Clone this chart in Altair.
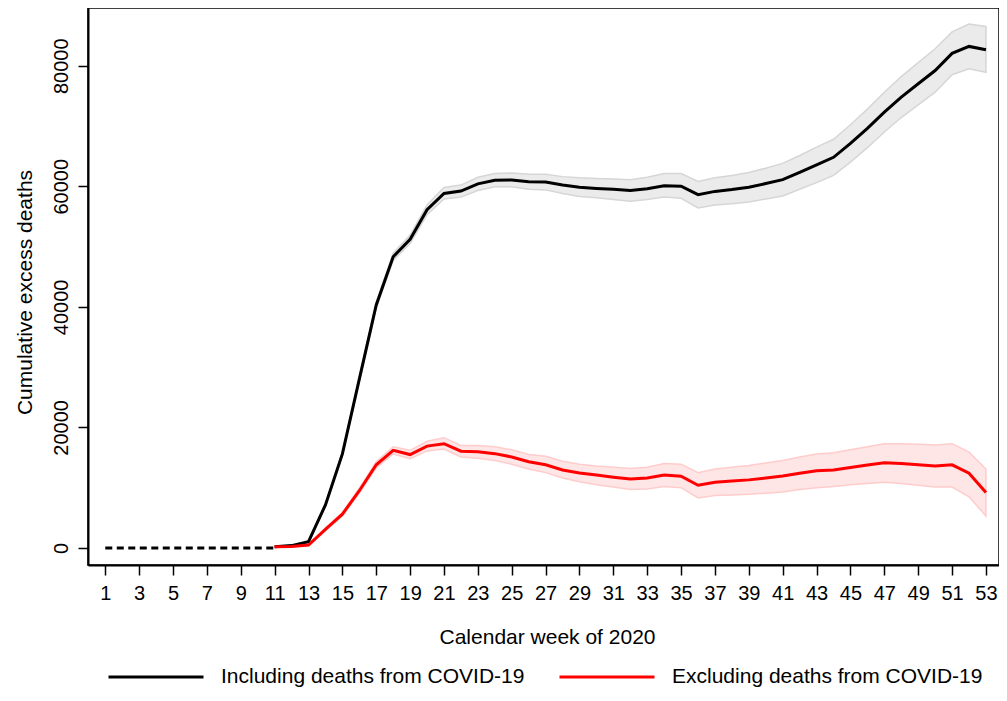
import altair as alt
import pandas as pd

# ---- data ----
weeks = list(range(11, 54))

incl = [200, 400, 1050, 7150, 15600, 28000, 40300, 48300, 51200, 56100,
        58800, 59200, 60400, 61000, 61050, 60750, 60700, 60200, 59850, 59650,
        59500, 59300, 59600, 60100, 60000, 58600, 59150, 59450, 59850, 60450,
        61100, 62300, 63550, 64800, 67100, 69600, 72300, 74800, 77000, 79200,
        82050, 83200, 82650]
incl_lo = [150, 300, 900, 6900, 15300, 27600, 39800, 47700, 50500, 55300,
           57900, 58200, 59300, 59900, 59900, 59500, 59400, 58800, 58300, 58100,
           57800, 57500, 57800, 58200, 58000, 56400, 56900, 57100, 57400, 57900,
           58400, 59500, 60600, 61800, 64000, 66400, 69000, 71400, 73500, 75600,
           78500, 79500, 78900]
incl_hi = [250, 500, 1200, 7400, 15900, 28400, 40800, 48900, 51900, 56900,
           59800, 60200, 61500, 62100, 62200, 62000, 62000, 61600, 61400, 61300,
           61200, 61100, 61500, 62100, 62100, 60800, 61400, 61800, 62300, 63000,
           63800, 65100, 66500, 67800, 70200, 72800, 75600, 78200, 80500, 82800,
           85600, 86900, 86500]

excl = [200, 250, 500, 3100, 5600, 9500, 13800, 16200, 15500, 16900,
        17300, 16050, 15950, 15650, 15100, 14300, 13800, 12950, 12450, 12100,
        11750, 11450, 11600, 12100, 11900, 10400, 10900, 11100, 11300, 11600,
        11950, 12400, 12800, 12950, 13350, 13750, 14150, 14000, 13800, 13600,
        13800, 12400, 9200]
excl_lo = [150, 200, 400, 2900, 5300, 9100, 13300, 15600, 14800, 16100,
           16400, 15100, 14900, 14500, 13900, 13100, 12500, 11600, 11000, 10500,
           10100, 9700, 9800, 10200, 10000, 8300, 8700, 8800, 8900, 9100,
           9300, 9700, 10000, 10200, 10500, 10700, 10900, 10700, 10400, 10100,
           10100, 8500, 5300]
excl_hi = [250, 300, 600, 3300, 5900, 9900, 14300, 16800, 16200, 17700,
           18300, 17000, 17000, 16800, 16300, 15500, 15200, 14400, 13900, 13600,
           13400, 13200, 13400, 14000, 13900, 12500, 13100, 13400, 13700, 14100,
           14500, 15100, 15600, 15800, 16300, 16800, 17300, 17300, 17200, 17100,
           17300, 15900, 13100]

pre_weeks = [1, 11]
pre_values = [0, 0]

series_names = ["Including deaths from COVID-19", "Excluding deaths from COVID-19"]
series_colors = ["#000000", "#ff0000"]
x_ticks = list(range(1, 54, 2))
y_ticks = [0, 20000, 40000, 60000, 80000]

# ---- tables ----
n = len(weeks)
lines = pd.DataFrame({
    "week": weeks + weeks,
    "value": incl + excl,
    "series": [series_names[0]] * n + [series_names[1]] * n,
})
band_incl = pd.DataFrame({"week": weeks, "lo": incl_lo, "hi": incl_hi})
band_excl = pd.DataFrame({"week": weeks, "lo": excl_lo, "hi": excl_hi})
pre = pd.DataFrame({"week": pre_weeks, "value": pre_values})

FONT = "Liberation Sans"
W, H = 911, 557

x_axis = alt.Axis(
    values=x_ticks, title="Calendar week of 2020", grid=False,
    labelFontSize=20, labelFont=FONT, labelColor="#000", labelPadding=8,
    labelBaseline="top", labelFlush=False, labelOverlap=False,
    tickSize=10, tickWidth=1.5, tickColor="#000",
    domainColor="#000", domainWidth=2,
    titleFontSize=21, titleFont=FONT, titleFontWeight="normal", titleColor="#000",
    titleX=459, titleY=78, titleBaseline="alphabetic", titleAlign="center",
)
y_axis = alt.Axis(
    values=y_ticks, format="d", title="Cumulative excess deaths", grid=False,
    labelFontSize=20, labelFont=FONT, labelColor="#000", labelAngle=-90,
    labelAlign="center", labelBaseline="alphabetic", labelPadding=11,
    labelFlush=False, labelOverlap=False,
    tickSize=10, tickWidth=1.5, tickColor="#000",
    domainColor="#000", domainWidth=2,
    titleFontSize=21, titleFont=FONT, titleFontWeight="normal", titleColor="#000",
    titleAngle=-90, titleX=-57, titleY=284, titleAlign="center",
    titleBaseline="alphabetic",
)

x_scale = alt.Scale(domain=[-0.02, 53.77], nice=False, zero=False)
y_scale = alt.Scale(domain=[-2820, 89570], nice=False, zero=False)

def xenc():
    return alt.X("week:Q", scale=x_scale, axis=x_axis)

band1 = alt.Chart(band_incl).mark_area(
    fill="#ebebeb", stroke="#d6d6d6", strokeWidth=1.5
).encode(
    x=xenc(),
    y=alt.Y("lo:Q", scale=y_scale, axis=y_axis),
    y2="hi:Q",
)
band2 = alt.Chart(band_excl).mark_area(
    fill="#ffe6e6", stroke="#ffcccc", strokeWidth=1.5
).encode(
    x=xenc(),
    y=alt.Y("lo:Q", scale=y_scale, axis=y_axis),
    y2="hi:Q",
)
dashed = alt.Chart(pre).mark_line(
    color="#000", strokeWidth=3, strokeDash=[7, 4.5]
).encode(
    x=xenc(),
    y=alt.Y("value:Q", scale=y_scale, axis=y_axis),
)
main = alt.Chart(lines).mark_line(strokeWidth=3, strokeJoin="miter").encode(
    x=xenc(),
    y=alt.Y("value:Q", scale=y_scale, axis=y_axis),
    color=alt.Color(
        "series:N",
        scale=alt.Scale(domain=series_names, range=series_colors),
        sort=series_names,
        legend=alt.Legend(
            title=None, orient="none", legendX=19, legendY=620,
            direction="horizontal", symbolType="stroke", symbolSize=9025,
            symbolStrokeWidth=3, labelFontSize=21, labelFont=FONT,
            labelColor="#000", labelOffset=16, columnPadding=28,
            labelLimit=500, padding=0,
        ),
    ),
)

chart = alt.layer(band1, band2, dashed, main).properties(
    width=W, height=H,
    background="white",
    autosize=alt.AutoSizeParams(type="none"),
    padding={"left": 80, "top": 0, "right": 0, "bottom": 123},
).configure_view(
    stroke="#000", strokeWidth=1.5
)

chart.save("out.html", embed_options={"renderer": "svg", "actions": False})
